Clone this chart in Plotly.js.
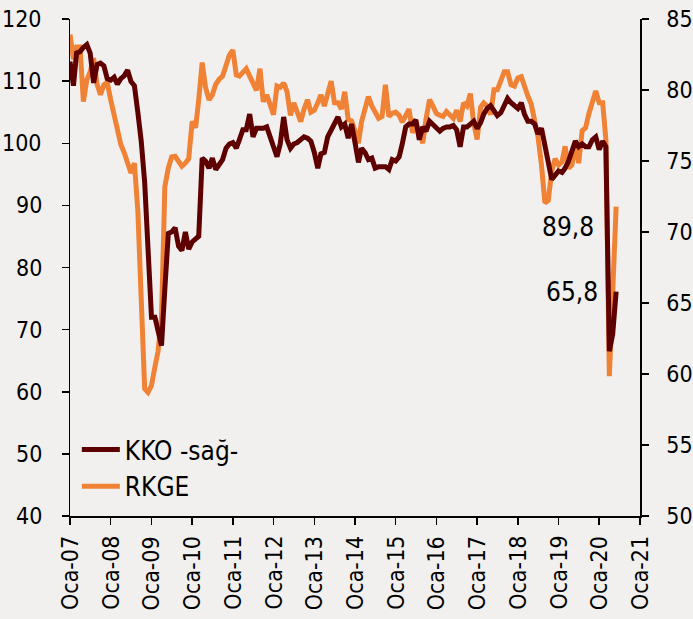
<!DOCTYPE html>
<html>
<head>
<meta charset="utf-8">
<script src="https://cdn.plot.ly/plotly-3.0.1.min.js"></script>
<style>
  html, body { margin: 0; padding: 0; background: #f1f0ef; }
  #chart { width: 693px; height: 619px; }
</style>
</head>
<body>
<div id="chart"></div>
<script>
// Series names
const seriesKKO = "KKO -sağ-";
const seriesRKGE = "RKGE";

// Start month (Jan 2007), monthly observations through Jun 2020
const startYear = 2007;
const startMonth = 1;

// KKO (right axis), monthly from Oca-07
const kko = [
  82.0, 80.3, 82.6, 82.7, 83.0, 83.2, 82.6, 80.5, 81.8, 81.9, 81.7, 80.8,
  80.7, 80.9, 80.4, 80.8, 81.0, 81.4, 80.6, 80.3, 78.4, 76.4, 73.5, 69.0,
  64.0, 64.0, 63.0, 62.0, 66.0, 69.9, 70.0, 70.3, 69.0, 68.7, 70.0, 68.8,
  69.3, 69.5, 69.7, 75.2, 75.0, 74.5, 75.2, 74.4, 74.8, 75.1, 75.9, 76.2,
  76.3, 75.9, 76.5, 77.2, 77.2, 78.3, 76.7, 77.3, 77.3, 77.3, 77.4, 76.8,
  76.0, 75.3, 76.2, 78.1, 76.5, 75.9, 76.2, 76.3, 76.5, 76.7, 76.6, 76.4,
  75.6, 74.5, 75.5, 75.6, 76.7, 77.2, 77.6, 78.1, 77.4, 77.6, 76.6, 77.6,
  76.3, 74.9, 75.9, 75.6, 75.1, 75.2, 74.5, 74.6, 74.6, 74.6, 74.4, 75.1,
  75.0, 75.3, 76.2, 77.4, 77.6, 77.6, 77.9, 76.5, 77.4, 77.1, 77.8, 77.6,
  77.3, 77.1, 77.3, 77.4, 77.4, 77.5, 77.2, 76.0, 77.4, 77.4, 77.6, 77.8,
  77.3, 77.7, 78.3, 78.7, 78.9, 78.6, 78.2, 78.4, 78.9, 79.4, 79.1, 78.9,
  78.7, 79.1, 78.3, 77.8, 77.8, 77.6, 76.9, 77.3, 76.0, 74.8, 73.7, 74.0,
  74.3, 74.2, 74.5, 75.0, 75.6, 76.4, 76.0, 76.2, 76.0, 76.0, 76.5, 76.7,
  75.8, 76.4, 76.0, 61.6, 62.8, 65.8
];

// RKGE (left axis), monthly from Oca-07
const rkge = [
  117.5, 113.5, 115.5, 115.5, 106.7, 110.2, 111.5, 113.7, 109.5, 107.8, 109.4, 109.8,
  107.0, 104.5, 102.0, 99.8, 98.5, 97.0, 95.2, 96.8, 89.0, 75.0, 60.5, 59.9,
  61.0, 64.0, 66.5, 72.0, 93.0, 96.0, 97.8, 97.9, 97.0, 96.3, 96.8, 97.5,
  103.5, 102.5, 107.0, 113.0, 109.0, 107.0, 107.8, 109.5, 110.3, 110.8, 112.5, 114.2,
  115.0, 111.0, 110.8, 111.5, 112.0, 110.8, 109.5, 108.5, 112.0, 106.7, 107.8, 106.0,
  104.6, 109.2, 109.0, 109.7, 108.3, 104.5, 106.5, 105.0, 103.5, 105.5, 107.0, 105.0,
  105.3, 106.5, 107.8, 106.0, 108.0, 110.0, 106.5, 106.5, 105.5, 108.3, 103.8, 103.6,
  102.0, 100.0, 103.5, 105.5, 107.5, 106.0, 104.8, 104.0, 104.3, 109.4, 104.3, 104.8,
  105.0, 104.5, 103.4, 104.5, 105.5, 101.7, 103.0, 102.0, 100.0, 104.0, 107.0, 106.0,
  104.8, 104.5, 104.3, 105.1, 104.5, 104.0, 105.3, 103.5, 106.5, 106.0, 108.0, 103.2,
  100.6, 105.8, 106.5, 106.0, 104.6, 108.6, 108.6, 110.2, 111.5, 111.5, 109.4, 109.2,
  110.5, 110.7, 109.0, 107.6, 106.3, 103.5, 101.0, 96.5, 90.4, 90.8, 95.5, 97.5,
  96.5, 97.0, 99.5, 96.0, 96.5, 99.8, 96.8, 102.0, 102.5, 104.8, 106.5, 108.4,
  106.5, 106.5, 100.6, 62.5, 76.0, 89.8
];

// Axis ticks
const tickYears = [2007,2008,2009,2010,2011,2012,2013,2014,2015,2016,2017,2018,2019,2020,2021];
const tickPrefix = "Oca-";
const leftTicks = [40, 50, 60, 70, 80, 90, 100, 110, 120];

// End-value labels
const labelRKGE = "89,8";
const labelKKO = "65,8";

function monthDate(i) {
  const total = (startMonth - 1) + i;
  const y = startYear + Math.floor(total / 12);
  const m = (total % 12) + 1;
  return y + "-" + String(m).padStart(2, "0") + "-01";
}
const dates = kko.map((_, i) => monthDate(i));
const tickvals = tickYears.map(y => y + "-01-01");
const ticktext = tickYears.map(y => tickPrefix + String(y).slice(2));

const FONT = "DejaVu Sans Condensed, DejaVu Sans, sans-serif";
const dark = "#5e0000";
const orange = "#f08236";
const GAP = "\u00a0";
const xRange = ["2007-01-01", "2021-01-01"];
const leftRange = [40, 120];
const rightRange = [50, 85];

const traces = [
  {
    x: dates, y: kko, name: seriesKKO, type: "scatter", mode: "lines",
    yaxis: "y2", line: { color: dark, width: 5 }
  },
  {
    x: dates, y: rkge, name: seriesRKGE, type: "scatter", mode: "lines",
    yaxis: "y", line: { color: orange, width: 5 }
  }
];

const tickFont = { family: FONT, size: 23, color: "#000" };

// Tick labels placed as annotations (to reproduce the wider label offset)
const leftLabelAnns = leftTicks.map(v => ({
  x: 0, xref: "paper", y: v, yref: "y", text: String(v),
  showarrow: false, xanchor: "right", yanchor: "middle",
  xshift: -26, font: tickFont
}));
const xLabelAnns = tickvals.map((d, i) => ({
  x: d, xref: "x", y: 0, yref: "paper", text: ticktext[i],
  showarrow: false, textangle: -90, xanchor: "center", yanchor: "top",
  yshift: -18, font: tickFont
}));

const layout = {
  width: 693, height: 619,
  margin: { l: 70, r: 53, t: 19, b: 103 },
  paper_bgcolor: "#f1f0ef",
  plot_bgcolor: "#f1f0ef",
  font: { family: FONT, size: 23, color: "#000" },
  showlegend: true,
  legend: {
    x: 0.012, y: 0.012, xanchor: "left", yanchor: "bottom",
    bgcolor: "rgba(0,0,0,0)", font: { family: FONT, size: 26, color: "#000" },
    tracegroupgap: 0, itemwidth: 38
  },
  xaxis: {
    type: "date", range: xRange,
    tickmode: "array", tickvals: tickvals, ticktext: ticktext,
    showticklabels: false,
    ticks: "outside", ticklen: 7, tickwidth: 1.5, tickcolor: "#000",
    showline: true, linecolor: "#000", linewidth: 1.5,
    showgrid: false, zeroline: false
  },
  yaxis: {
    range: leftRange, tickmode: "array", tickvals: leftTicks,
    showticklabels: false,
    ticks: "outside", ticklen: 7, tickwidth: 1.5, tickcolor: "#000",
    showline: true, linecolor: "#000", linewidth: 1.5,
    showgrid: false, zeroline: false
  },
  yaxis2: {
    range: rightRange, dtick: 5, tick0: 50,
    tickprefix: GAP + GAP,
    overlaying: "y", side: "right",
    ticks: "outside", ticklen: 7, tickwidth: 1.5, tickcolor: "#000",
    showline: true, linecolor: "#000", linewidth: 1.5,
    showgrid: false, zeroline: false,
    tickfont: tickFont
  },
  annotations: [
    ...leftLabelAnns,
    ...xLabelAnns,
    { x: "2019-12-01", y: 86.6, xref: "x", yref: "y", text: labelRKGE,
      showarrow: false, xanchor: "right", yanchor: "middle",
      font: { family: FONT, size: 26, color: "#000" } },
    { x: "2020-01-10", y: 76.1, xref: "x", yref: "y", text: labelKKO,
      showarrow: false, xanchor: "right", yanchor: "middle",
      font: { family: FONT, size: 26, color: "#000" } }
  ]
};

Plotly.newPlot("chart", traces, layout, { displayModeBar: false, staticPlot: true });
</script>
</body>
</html>
